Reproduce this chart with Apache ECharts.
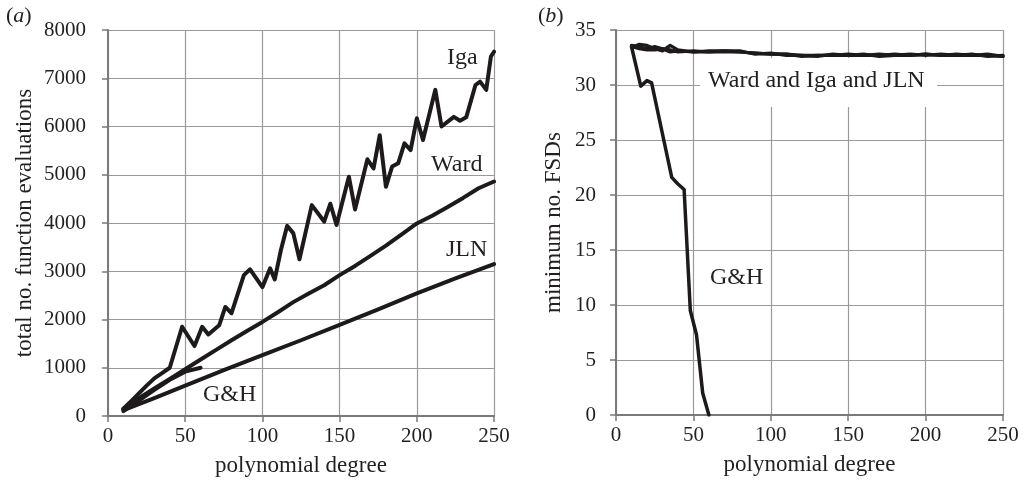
<!DOCTYPE html>
<html>
<head>
<meta charset="utf-8">
<script src="https://cdn.jsdelivr.net/npm/echarts@6/dist/echarts.min.js"></script>
<style>
html,body{margin:0;padding:0;background:#fff;}
#c{width:1025px;height:488px;}
</style>
</head>
<body>
<div id="c"></div>
<script>
// ---- Panel (a): total no. function evaluations vs polynomial degree ----
var xTicksA = [0, 50, 100, 150, 200, 250];
var yTicksA = [0, 1000, 2000, 3000, 4000, 5000, 6000, 7000, 8000];
var igaA = [[10,150],[15,310],[20,470],[25,630],[30,780],[35,890],[40,1000],[48,1850],[56,1450],[61,1850],[65,1690],[72,1880],[76,2260],[80,2130],[88,2920],[92,3040],[100,2670],[105,3060],[108,2830],[112,3440],[116,3940],[120,3790],[124,3250],[132,4370],[140,4030],[144,4400],[148,3960],[156,4960],[160,4280],[168,5320],[172,5130],[176,5820],[180,4750],[184,5170],[188,5240],[192,5650],[196,5510],[200,6170],[204,5720],[212,6760],[216,6000],[224,6200],[228,6120],[232,6190],[238,6860],[241,6930],[245,6760],[248,7450],[250,7550]];
var wardA = [[10,150],[20,370],[30,570],[40,770],[50,970],[60,1170],[70,1370],[80,1570],[90,1760],[100,1950],[110,2150],[120,2360],[130,2540],[140,2710],[150,2920],[160,3110],[170,3320],[180,3530],[190,3760],[200,3990],[210,4150],[220,4330],[230,4520],[240,4720],[250,4860]];
var jlnA = [[10,120],[30,370],[50,630],[75,950],[100,1260],[125,1570],[150,1890],[175,2210],[200,2540],[225,2850],[250,3150]];
var ghA = [[10,100],[20,320],[30,540],[40,750],[50,920],[60,1000]];

// ---- Panel (b): minimum no. FSDs vs polynomial degree ----
var xTicksB = [0, 50, 100, 150, 200, 250];
var yTicksB = [0, 5, 10, 15, 20, 25, 30, 35];
var wardB = [[10,33.5],[15,33.3],[20,33.2],[25,33.2],[30,33.3],[35,33.0],[40,33.1],[50,33.0],[60,33.1],[70,33.1],[80,33.0],[90,32.9],[100,32.8],[110,32.8],[120,32.6],[130,32.7],[140,32.7],[150,32.8],[160,32.7],[170,32.7],[180,32.8],[190,32.7],[200,32.8],[210,32.7],[220,32.8],[230,32.7],[240,32.7],[250,32.6]];
var igaB = [[10,33.4],[15,33.7],[20,33.6],[25,33.3],[30,33.1],[35,33.6],[40,33.2],[50,33.0],[60,33.0],[70,33.1],[80,33.1],[90,32.8],[100,32.9],[110,32.7],[120,32.7],[130,32.6],[140,32.8],[150,32.7],[160,32.8],[170,32.6],[180,32.7],[190,32.8],[200,32.7],[210,32.8],[220,32.7],[230,32.8],[240,32.6],[250,32.7]];
var jlnB = [[10,33.6],[15,33.5],[20,33.3],[25,33.5],[30,33.3],[35,33.2],[40,33.0],[50,33.1],[60,33.0],[70,33.0],[80,33.0],[90,32.9],[100,32.8],[110,32.8],[120,32.7],[130,32.7],[140,32.7],[150,32.7],[160,32.7],[170,32.8],[180,32.7],[190,32.7],[200,32.8],[210,32.7],[220,32.7],[230,32.7],[240,32.8],[250,32.6]];
var ghB = [[10,33.5],[16,29.9],[20,30.4],[23,30.2],[36,21.6],[40,21.0],[44,20.5],[48,9.5],[52,7.3],[56,2.0],[60,0]];

var FONT = '"Liberation Serif", "DejaVu Serif", serif';
var TXT = '#231f20';
var GRIDC = '#9a9a9a';
var LINEC = '#1e1a1b';

function xAxisCfg(grid, ticks) {
  return {
    type: 'value', gridIndex: grid, min: ticks[0], max: ticks[ticks.length-1],
    interval: ticks[1]-ticks[0],
    name: 'polynomial degree', nameLocation: 'middle', nameGap: 38,
    nameTextStyle: {fontFamily: FONT, fontSize: 23, color: TXT},
    axisLine: {show: true, lineStyle: {color: '#7a7a7a', width: 2}},
    axisTick: {show: true, inside: false, length: 6, lineStyle: {color: '#7a7a7a', width: 1.5}},
    axisLabel: {fontFamily: FONT, fontSize: 21, color: TXT, margin: 10,
      formatter: function (v) { return String(v); }},
    splitLine: {show: true, lineStyle: {color: GRIDC, width: 1.2}}
  };
}
function yAxisCfg(grid, ticks, name, gap, lm) {
  return {
    type: 'value', gridIndex: grid, min: ticks[0], max: ticks[ticks.length-1],
    interval: ticks[1]-ticks[0],
    name: name, nameLocation: 'middle', nameGap: gap, nameRotate: 90,
    nameTextStyle: {fontFamily: FONT, fontSize: 23, color: TXT},
    axisLine: {show: true, lineStyle: {color: '#7a7a7a', width: 2}},
    axisTick: {show: true, inside: false, length: 6, lineStyle: {color: '#7a7a7a', width: 1.5}},
    axisLabel: {fontFamily: FONT, fontSize: 21, color: TXT, margin: lm,
      formatter: function (v) { return String(v); }},
    splitLine: {show: true, lineStyle: {color: GRIDC, width: 1.2}}
  };
}
function lineSeries(data, xi, yi, w) {
  return {
    type: 'line', xAxisIndex: xi, yAxisIndex: yi, data: data,
    showSymbol: false, symbol: 'none', smooth: false, silent: true,
    lineStyle: {color: LINEC, width: w || 4, join: 'round', cap: 'round'},
    z: 5
  };
}
function label(text, x, y) {
  return {type: 'text', left: x, top: y, z: 10,
    style: {text: text, font: '24px ' + FONT, fill: TXT}};
}

var chart = echarts.init(document.getElementById('c'), null, {renderer: 'canvas'});
chart.setOption({
  backgroundColor: '#fff',
  animation: false,
  grid: [
    {left: 108, right: 531, top: 30, bottom: 72, containLabel: false},
    {left: 616, right: 22, top: 30, bottom: 73, containLabel: false}
  ],
  xAxis: [xAxisCfg(0, xTicksA), xAxisCfg(1, xTicksB)],
  yAxis: [
    yAxisCfg(0, yTicksA, 'total no. function evaluations', 72, 22),
    yAxisCfg(1, yTicksB, 'minimum no. FSDs', 51, 20)
  ],
  series: [
    lineSeries(igaA, 0, 0), lineSeries(wardA, 0, 0), lineSeries(jlnA, 0, 0), lineSeries(ghA, 0, 0),
    lineSeries(wardB, 1, 1, 3.2), lineSeries(igaB, 1, 1, 3.2), lineSeries(jlnB, 1, 1, 3.2), lineSeries(ghB, 1, 1, 3.5)
  ],
  graphic: [
    {type: 'text', left: 6, top: 5, z: 10, style: {
      text: '{p|(}{i|a}{p|)}',
      rich: {p: {fontFamily: FONT, fontSize: 22, fill: TXT}, i: {fontFamily: FONT, fontSize: 22, fontStyle: 'italic', fill: TXT}}
    }},
    {type: 'text', left: 538, top: 5, z: 10, style: {
      text: '{p|(}{i|b}{p|)}',
      rich: {p: {fontFamily: FONT, fontSize: 22, fill: TXT}, i: {fontFamily: FONT, fontSize: 22, fontStyle: 'italic', fill: TXT}}
    }},
    label('Iga', 447, 46),
    label('Ward', 431, 153),
    label('JLN', 446, 238),
    label('G&H', 203, 383),
    {type: 'rect', shape: {x: 700, y: 58, width: 237, height: 49}, style: {fill: '#fff'}, z: 1},
    label('Ward and Iga and JLN', 708, 69),
    label('G&H', 710, 266)
  ]
});
</script>
</body>
</html>
